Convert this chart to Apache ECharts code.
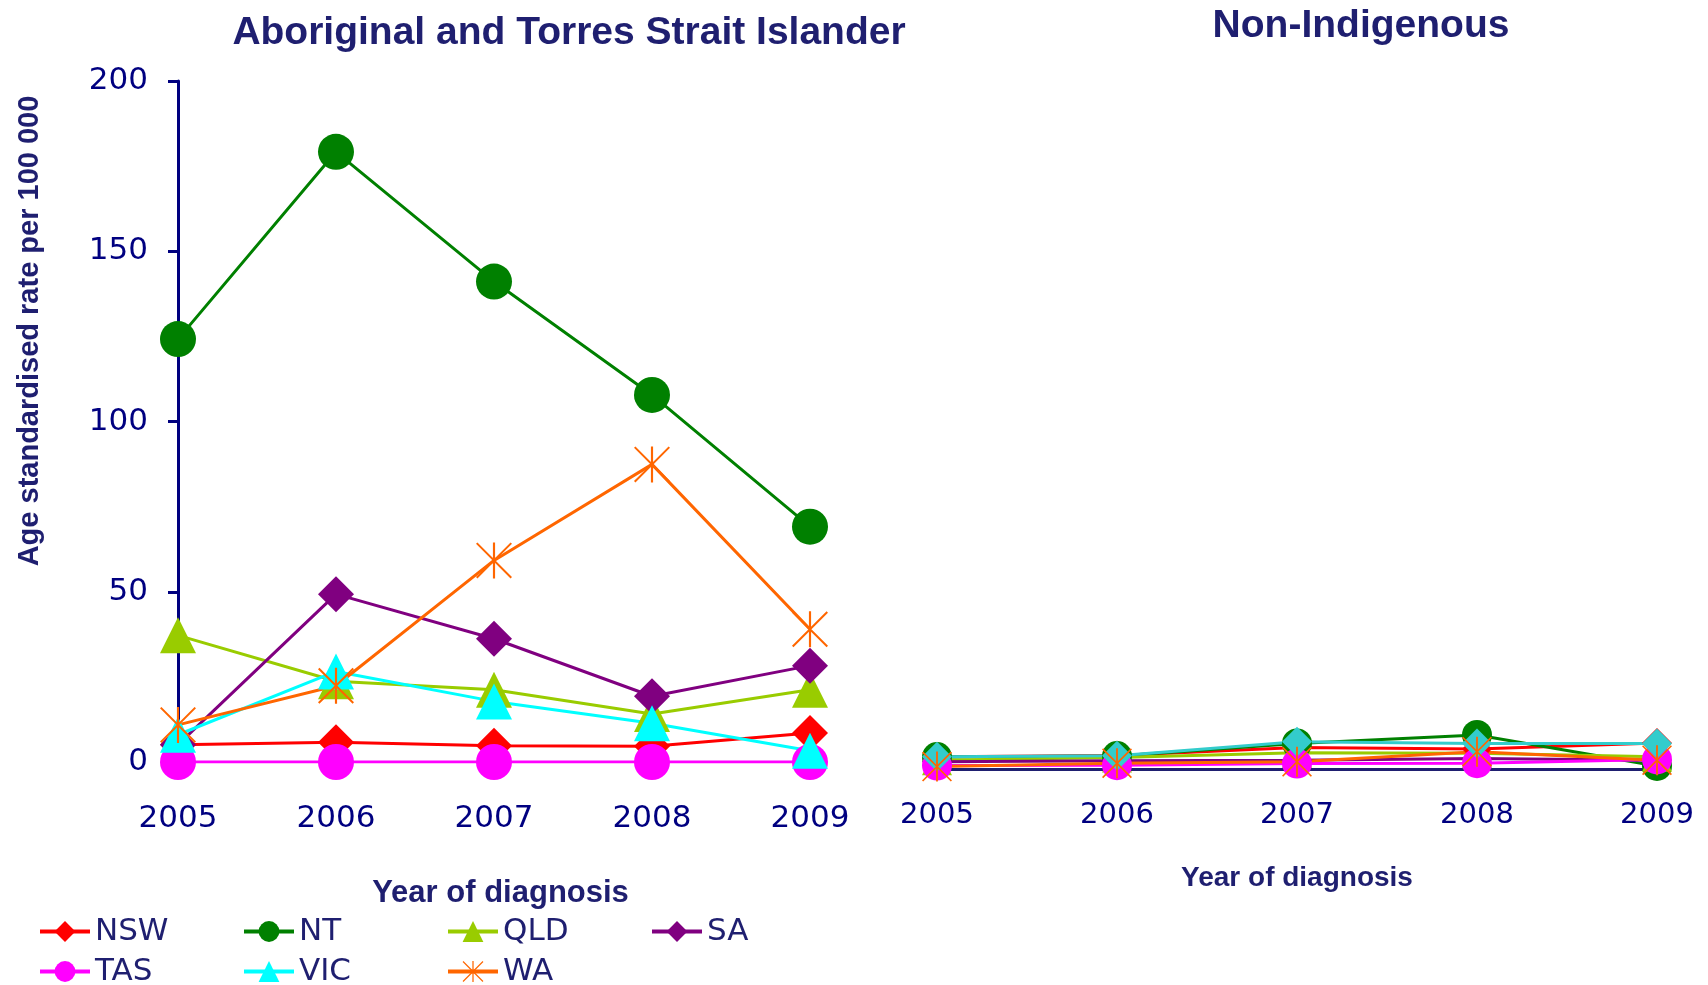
<!DOCTYPE html>
<html>
<head>
<meta charset="utf-8">
<script src="https://cdn.jsdelivr.net/npm/echarts@6/dist/echarts.min.js"></script>
<style>
  html, body { margin: 0; padding: 0; background: #fff; }
  #chart { width: 1708px; height: 985px; }
</style>
</head>
<body>
<div id="chart"></div>
<script>
// data
const years = ['2005', '2006', '2007', '2008', '2009'];
const states = ['NSW', 'NT', 'QLD', 'SA', 'TAS', 'VIC', 'WA'];
const yTicks = [0, 50, 100, 150, 200];

// Aboriginal and Torres Strait Islander
const atsiNSW = [5.1, 5.8, 4.8, 4.6, 8.5];
const atsiNT  = [124.2, 179.2, 141.1, 107.8, 69.1];
const atsiQLD = [37.2, 23.7, 21.2, 14.1, 21.2];
const atsiSA  = [5.1, 49.3, 36.2, 19.3, 28.3];
const atsiTAS = [0, 0, 0, 0, 0];
const atsiVIC = [8.0, 26.6, 17.8, 11.4, 3.3];
const atsiWA  = [10.9, 22.4, 59.2, 87.4, 39.0];

// Non-Indigenous
const nonNSW = [3.6, 4.0, 6.3, 5.9, 7.6];
const nonNT  = [3.5, 3.8, 7.5, 10.0, 0.9];
const nonQLD = [2.6, 3.4, 4.8, 4.6, 3.6];
const nonSA  = [2.1, 2.4, 2.6, 3.1, 2.6];
const nonTAS = [1.0, 1.1, 1.6, 1.7, 2.8];
const nonVIC = [3.6, 3.9, 8.0, 7.5, 7.5];
const nonWA  = [0.7, 1.7, 2.1, 5.1, 2.6];

const atsiData = [atsiNSW, atsiNT, atsiQLD, atsiSA, atsiTAS, atsiVIC, atsiWA];
const nonData = [nonNSW, nonNT, nonQLD, nonSA, nonTAS, nonVIC, nonWA];

const leftColors  = ['#ff0000', '#008000', '#99cc00', '#800080', '#ff00ff', '#00ffff', '#ff6600'];
const rightColors = ['#ff0000', '#008000', '#99cc00', '#800080', '#ff00ff', '#33cccc', '#ff6600'];

const starPath = 'path://M47,0 L53,0 L53,100 L47,100 Z M4,0 L100,96 L96,100 L0,4 Z M96,0 L100,4 L4,100 L0,96 Z';
const leftSymbols  = ['diamond', 'circle', 'triangle', 'diamond', 'circle', 'triangle', starPath];
const rightSymbols = ['diamond', 'circle', 'triangle', 'diamond', 'circle', 'diamond', starPath];

const navy = '#000080';
const textNavy = '#1f1f70';

const chart = echarts.init(document.getElementById('chart'));

const series = [];
states.forEach(function (s, i) {
    series.push({
        name: s,
        type: 'line',
        xAxisIndex: 0,
        yAxisIndex: 0,
        data: atsiData[i],
        symbol: leftSymbols[i],
        symbolSize: 36,
        lineStyle: { color: leftColors[i], width: 3 },
        itemStyle: { color: leftColors[i] },
        emphasis: { disabled: true }
    });
});
states.forEach(function (s, i) {
    series.push({
        name: s,
        type: 'line',
        xAxisIndex: 1,
        yAxisIndex: 1,
        data: nonData[i],
        symbol: rightSymbols[i],
        symbolSize: 30,
        lineStyle: { color: rightColors[i], width: 3 },
        itemStyle: { color: rightColors[i] },
        emphasis: { disabled: true }
    });
});

// one legend per item so the columns line up
const legends = states.map(function (s, i) {
    return {
        data: [s],
        left: 38 + (i % 4) * 204,
        top: i < 4 ? 916 : 956,
        padding: 0,
        itemWidth: 50,
        itemHeight: 26,
        selectedMode: false,
        lineStyle: { width: 4 },
        textStyle: { fontFamily: 'DejaVu Sans', fontSize: 31, color: textNavy }
    };
});

chart.setOption({
    animation: false,
    backgroundColor: '#fff',
    title: [
        {
            text: 'Aboriginal and Torres Strait Islander',
            left: 564,
            top: 9,
            textAlign: 'center',
            textStyle: { fontFamily: 'Liberation Sans', fontWeight: 'bold', fontSize: 39, color: textNavy }
        },
        {
            text: 'Non-Indigenous',
            left: 1356,
            top: 2,
            textAlign: 'center',
            textStyle: { fontFamily: 'Liberation Sans', fontWeight: 'bold', fontSize: 39, color: textNavy }
        }
    ],
    legend: legends,
    grid: [
        { left: 178, top: 81, width: 632, height: 681 },
        { left: 937, top: 88, width: 720, height: 681 }
    ],
    xAxis: [
        {
            gridIndex: 0,
            type: 'category',
            data: years,
            boundaryGap: false,
            axisLine: { lineStyle: { color: navy, width: 2 } },
            axisTick: { show: false },
            axisLabel: { margin: 41, fontFamily: 'DejaVu Sans', fontSize: 31, color: navy },
            name: 'Year of diagnosis',
            nameLocation: 'middle',
            nameGap: 116,
            nameTextStyle: { fontFamily: 'Liberation Sans', fontWeight: 'bold', fontSize: 31, color: textNavy, padding: [0, 0, 0, 13] }
        },
        {
            gridIndex: 1,
            type: 'category',
            data: years,
            boundaryGap: false,
            axisLine: { lineStyle: { color: '#1f1f70', width: 3 } },
            axisTick: { show: false },
            axisLabel: { margin: 32, fontFamily: 'DejaVu Sans', fontSize: 29, color: navy },
            name: 'Year of diagnosis',
            nameLocation: 'middle',
            nameGap: 95,
            nameTextStyle: { fontFamily: 'Liberation Sans', fontWeight: 'bold', fontSize: 28, color: textNavy }
        }
    ],
    yAxis: [
        {
            gridIndex: 0,
            type: 'value',
            min: yTicks[0],
            max: yTicks[yTicks.length - 1],
            interval: yTicks[1] - yTicks[0],
            axisLine: { show: true, lineStyle: { color: navy, width: 3 } },
            axisTick: { show: true, length: 10, lineStyle: { color: navy, width: 3 } },
            axisLabel: { margin: 30, fontFamily: 'DejaVu Sans', fontSize: 31, color: navy },
            splitLine: { show: false }
        },
        {
            gridIndex: 1,
            type: 'value',
            min: yTicks[0],
            max: yTicks[yTicks.length - 1],
            show: false,
            splitLine: { show: false }
        }
    ],
    graphic: [
        {
            type: 'text',
            x: 30,
            y: 331,
            rotation: Math.PI / 2,
            style: {
                text: 'Age standardised rate per 100 000',
                font: 'bold 29px "Liberation Sans"',
                fill: textNavy,
                textAlign: 'center',
                textVerticalAlign: 'middle'
            }
        }
    ],
    series: series
});

window.addEventListener('resize', function () {
    chart.resize();
});
</script>
</body>
</html>
